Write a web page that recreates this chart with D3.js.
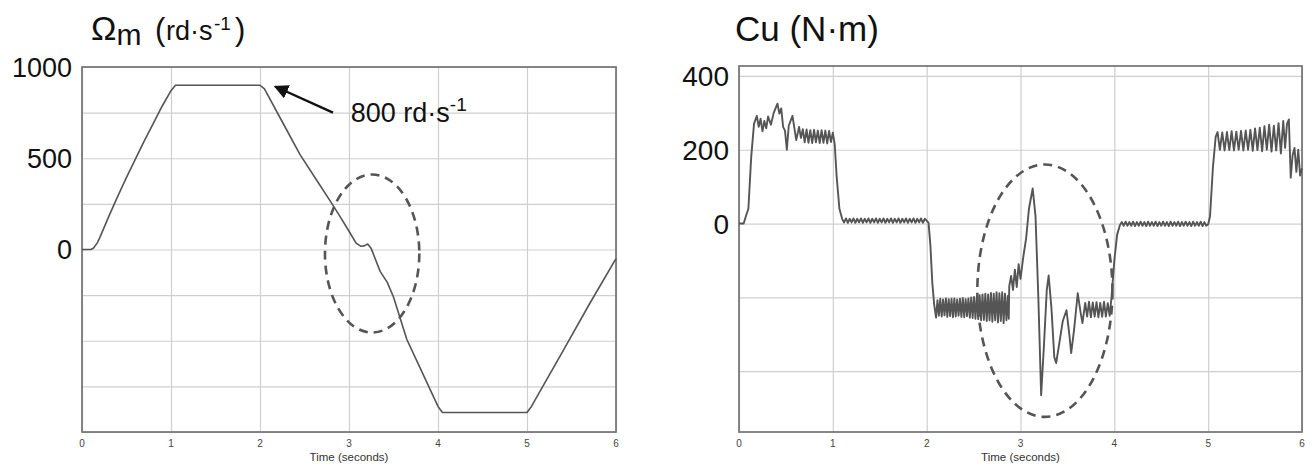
<!DOCTYPE html>
<html>
<head>
<meta charset="utf-8">
<script src="https://cdn.jsdelivr.net/npm/d3@7"></script>
<style>
  body { margin: 0; background: #fff; }
  text { font-family: "Liberation Sans", Arial, sans-serif; }
</style>
</head>
<body>
<svg id="chart" width="1312" height="468"></svg>
<script>
// speed Ωm (rd/s) vs time (s)
var speedData = [
    [0, 0], [0.1, 0], [0.13, 8], [0.17, 35], [0.2, 65], [0.3, 180], [0.4, 290], [0.5, 395],
    [0.6, 495], [0.7, 595], [0.8, 690], [0.9, 785], [1.0, 870], [1.05, 900], [2.0, 900], [2.05, 880],
    [2.25, 700], [2.45, 520], [2.65, 370], [2.81, 250], [2.9, 180], [3.0, 100], [3.08, 35],
    [3.13, 18], [3.17, 20], [3.21, 30], [3.25, 5], [3.29, -45], [3.35, -120], [3.43, -180],
    [3.5, -260], [3.65, -493], [3.8, -650], [4.0, -860], [4.05, -893], [5.0, -893],
    [5.05, -860], [5.4, -560], [5.7, -300], [6.0, -50]
];

// torque Cu (N.m) vs time (s)
var torqueData = [
    [0, 0], [0.05, 0], [0.08, 25], [0.1, 40], [0.13, 180], [0.16, 270], [0.19, 292],
    [0.21, 262], [0.23, 284], [0.25, 250], [0.27, 278], [0.29, 258], [0.31, 290], [0.34, 268],
    [0.37, 300], [0.41, 325], [0.43, 298], [0.45, 312], [0.47, 262], [0.49, 252], [0.51, 200],
    [0.53, 265], [0.57, 292], [0.61, 226], [0.64, 262], [0.66, 232], [0.68, 256], [0.70, 220],
    [0.72, 255], [0.74, 219], [0.76, 253], [0.78, 218], [0.80, 254], [0.82, 220], [0.84, 252],
    [0.86, 218], [0.88, 253], [0.90, 219], [0.92, 252], [0.94, 217], [0.96, 251], [0.98, 221],
    [1.00, 246], [1.02, 215], [1.04, 130], [1.07, 40], [1.10, 12],
    [1.12, 3], [1.14, 14], [1.16, 2], [1.18, 13], [1.20, 3], [1.22, 14], [1.24, 2], [1.26, 13],
    [1.28, 3], [1.30, 14], [1.32, 2], [1.34, 13], [1.36, 3], [1.38, 14], [1.40, 2], [1.42, 13],
    [1.44, 3], [1.46, 14], [1.48, 2], [1.50, 13], [1.52, 3], [1.54, 14], [1.56, 2], [1.58, 13],
    [1.60, 3], [1.62, 14], [1.64, 2], [1.66, 13], [1.68, 3], [1.70, 14], [1.72, 2], [1.74, 13],
    [1.76, 3], [1.78, 14], [1.80, 2], [1.82, 13], [1.84, 3], [1.86, 14], [1.88, 2], [1.90, 13],
    [1.92, 3], [1.94, 14], [1.96, 2], [1.98, 13], [2.00, 8],
    [2.02, 2], [2.04, -60], [2.06, -160], [2.08, -220], [2.10, -255],
    [2.115, -208], [2.13, -250], [2.145, -204], [2.16, -252], [2.175, -206], [2.19, -249],
    [2.205, -203], [2.22, -253], [2.235, -205], [2.25, -251], [2.265, -204], [2.28, -254],
    [2.295, -203], [2.31, -252], [2.325, -206], [2.34, -250], [2.355, -204], [2.37, -253],
    [2.385, -202], [2.40, -254], [2.415, -205], [2.43, -251], [2.445, -203], [2.46, -255],
    [2.475, -200], [2.49, -256], [2.505, -199], [2.52, -258], [2.535, -197], [2.55, -259],
    [2.565, -194], [2.58, -262], [2.595, -192], [2.61, -261], [2.625, -190], [2.64, -264],
    [2.655, -192], [2.67, -262], [2.685, -188], [2.70, -266], [2.715, -190], [2.73, -262],
    [2.745, -186], [2.76, -268], [2.775, -189], [2.79, -264], [2.805, -186], [2.82, -270],
    [2.835, -190], [2.85, -262], [2.865, -196], [2.875, -258], [2.88, -170], [2.90, -142],
    [2.92, -180], [2.94, -125], [2.96, -172],
    [2.98, -110], [3.00, -150], [3.03, -90], [3.06, -40], [3.09, 40], [3.13, 95], [3.16, 20],
    [3.19, -200], [3.22, -465], [3.25, -330], [3.28, -180], [3.30, -141], [3.33, -230],
    [3.36, -362], [3.38, -378], [3.41, -330], [3.45, -265], [3.49, -235], [3.52, -300],
    [3.54, -351], [3.57, -290], [3.61, -189], [3.64, -240], [3.66, -270], [3.69, -215],
    [3.71, -252], [3.73, -212], [3.75, -254], [3.77, -214], [3.79, -252], [3.81, -213],
    [3.83, -254], [3.85, -215], [3.87, -253], [3.89, -212], [3.91, -252], [3.93, -216],
    [3.95, -250], [3.97, -200], [4.00, -100], [4.03, -30], [4.06, -4],
    [4.08, 4], [4.10, -6], [4.12, 5], [4.14, -6], [4.16, 4], [4.18, -6], [4.20, 5], [4.22, -7],
    [4.24, 4], [4.26, -6], [4.28, 5], [4.30, -6], [4.32, 4], [4.34, -7], [4.36, 5], [4.38, -6],
    [4.40, 4], [4.42, -6], [4.44, 5], [4.46, -7], [4.48, 4], [4.50, -6], [4.52, 5], [4.54, -6],
    [4.56, 4], [4.58, -7], [4.60, 5], [4.62, -6], [4.64, 4], [4.66, -6], [4.68, 5], [4.70, -7],
    [4.72, 4], [4.74, -6], [4.76, 5], [4.78, -6], [4.80, 4], [4.82, -7], [4.84, 5], [4.86, -6],
    [4.88, 4], [4.90, -6], [4.92, 5], [4.94, -7], [4.96, 4], [4.98, -6], [5.00, -2],
    [5.02, 20], [5.05, 150], [5.08, 235], [5.10, 248], [5.125, 200], [5.15, 247], [5.175, 198],
    [5.20, 248], [5.225, 199], [5.25, 250], [5.275, 198], [5.30, 249], [5.325, 200],
    [5.35, 251], [5.375, 198], [5.40, 252], [5.425, 200], [5.45, 254], [5.475, 197],
    [5.50, 258], [5.525, 199], [5.55, 260], [5.575, 196], [5.60, 264], [5.625, 200],
    [5.65, 268], [5.675, 195], [5.70, 265], [5.725, 198], [5.75, 272], [5.775, 190],
    [5.80, 278], [5.82, 205], [5.84, 270], [5.86, 282], [5.88, 124], [5.90, 185],
    [5.92, 205], [5.94, 140], [5.96, 200], [5.98, 130], [6.00, 150]
];

var timeTicks = [0, 1, 2, 3, 4, 5, 6];
var speedGrid = [-1000, -750, -500, -250, 0, 250, 500, 750, 1000];
var speedLabels = [1000, 500, 0];
var torqueGrid = [-400, -200, 0, 200, 400];
var torqueLabels = [400, 200, 0];

var svg = d3.select("#chart");

function drawPanel(box, yDomain, grid, labels, data, labelSize, lineWidth) {
    var x = d3.scaleLinear().domain([0, 6]).range([box.left, box.right]);
    var y = d3.scaleLinear().domain(yDomain).range([box.bottom, box.top]);
    var w = box.right - box.left,
        h = box.bottom - box.top;

    var g = svg.append("g");

    // grid
    g.append("g")
        .attr("transform", "translate(0," + box.bottom + ")")
        .call(d3.axisBottom(x).tickValues(timeTicks).tickSize(-h).tickFormat(""))
        .call(function (a) {
            a.select(".domain").remove();
            a.selectAll("line").attr("stroke", "#cfcfcf").attr("stroke-width", 1.2);
        });
    g.append("g")
        .attr("transform", "translate(" + box.left + ",0)")
        .call(d3.axisLeft(y).tickValues(grid).tickSize(-w).tickFormat(""))
        .call(function (a) {
            a.select(".domain").remove();
            a.selectAll("line").attr("stroke", "#cfcfcf").attr("stroke-width", 1.2);
        });

    // frame
    g.append("rect")
        .attr("x", box.left)
        .attr("y", box.top)
        .attr("width", w)
        .attr("height", h)
        .attr("fill", "none")
        .attr("stroke", "#737373")
        .attr("stroke-width", 1.7);

    // x tick labels
    g.selectAll(".xlab")
        .data(timeTicks)
        .enter().append("text")
        .attr("x", function (d) { return x(d); })
        .attr("y", box.bottom + 15)
        .attr("text-anchor", "middle")
        .attr("font-size", 10)
        .attr("fill", "#444")
        .text(function (d) { return d; });

    g.append("text")
        .attr("x", (box.left + box.right) / 2)
        .attr("y", box.bottom + 29)
        .attr("text-anchor", "middle")
        .attr("font-size", 11.5)
        .attr("fill", "#333")
        .text("Time (seconds)");

    // y tick labels
    g.selectAll(".ylab")
        .data(labels)
        .enter().append("text")
        .attr("x", box.left - 10)
        .attr("y", function (d) { return y(d); })
        .attr("dy", "0.36em")
        .attr("text-anchor", "end")
        .attr("font-size", labelSize)
        .attr("fill", "#111")
        .text(function (d) { return d; });

    var line = d3.line()
        .x(function (d) { return x(d[0]); })
        .y(function (d) { return y(d[1]); });

    g.append("path")
        .datum(data)
        .attr("fill", "none")
        .attr("stroke", "#555")
        .attr("stroke-width", lineWidth)
        .attr("stroke-linejoin", "round")
        .attr("d", line);

    return { x: x, y: y, g: g };
}

var left = drawPanel({ left: 82, right: 616, top: 67, bottom: 432 },
    [-1000, 1000], speedGrid, speedLabels, speedData, 27, 1.6);
var right = drawPanel({ left: 739, right: 1302, top: 66, bottom: 432 },
    [-565, 427], torqueGrid, torqueLabels, torqueData, 28, 1.9);

// dashed ellipses around the disturbance
function ring(p, cx, cy, rx, ry) {
    p.g.append("ellipse")
        .attr("cx", p.x(cx))
        .attr("cy", p.y(cy))
        .attr("rx", p.x(cx + rx) - p.x(cx))
        .attr("ry", p.y(cy) - p.y(cy + ry))
        .attr("fill", "none")
        .attr("stroke", "#555")
        .attr("stroke-width", 2.6)
        .attr("stroke-dasharray", "9,6");
}
ring(left, 3.26, -22, 0.53, 433);
ring(right, 3.26, -182, 0.72, 342);

// arrow annotation
svg.append("defs").append("marker")
    .attr("id", "head")
    .attr("viewBox", "0 0 10 10")
    .attr("refX", 9).attr("refY", 5)
    .attr("markerWidth", 6).attr("markerHeight", 6)
    .attr("orient", "auto")
    .append("path")
    .attr("d", "M0,0L10,5L0,10z")
    .attr("fill", "#111");

left.g.append("line")
    .attr("x1", left.x(2.82)).attr("y1", left.y(750))
    .attr("x2", left.x(2.17)).attr("y2", left.y(893))
    .attr("stroke", "#111")
    .attr("stroke-width", 2.4)
    .attr("marker-end", "url(#head)");

var note = left.g.append("text")
    .attr("x", left.x(3.02))
    .attr("y", left.y(700))
    .attr("font-size", 27)
    .attr("fill", "#111");
note.append("tspan").text("800 rd·s");
note.append("tspan").attr("font-size", 19).attr("dy", -11).text("-1");

// titles
var t1 = svg.append("text").attr("y", 40).attr("fill", "#111");
t1.append("tspan").attr("x", 91).attr("font-size", 34).text("Ω");
t1.append("tspan").attr("font-size", 30).attr("dy", 5).text("m");
t1.append("tspan").attr("x", 155).attr("font-size", 31).attr("dy", -5).text("(");
t1.append("tspan").attr("x", 166).attr("font-size", 27).text("rd·s");
t1.append("tspan").attr("x", 214).attr("font-size", 19).attr("dy", -10).text("-1");
t1.append("tspan").attr("x", 235).attr("font-size", 31).attr("dy", 10).text(")");

svg.append("text")
    .attr("x", 735)
    .attr("y", 41)
    .attr("font-size", 35)
    .attr("fill", "#111")
    .text("Cu (N·m)");
</script>
</body>
</html>
